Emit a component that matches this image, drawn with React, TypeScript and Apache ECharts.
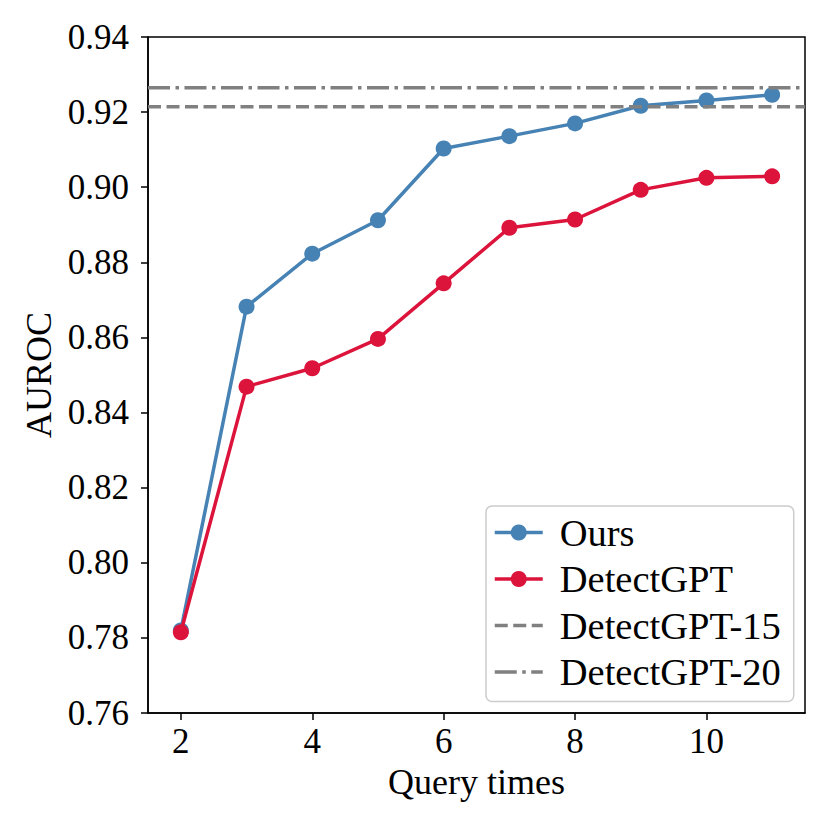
import React, { useEffect, useRef } from "react";
import * as echarts from "echarts";

const xValues = [2, 3, 4, 5, 6, 7, 8, 9, 10, 11];
const oursValues = [0.782, 0.8682, 0.8823, 0.8912, 0.9103, 0.9136, 0.917, 0.9217, 0.9231, 0.9246];
const detectGptValues = [0.7815, 0.8469, 0.8518, 0.8596, 0.8744, 0.8892, 0.8914, 0.8993, 0.9025, 0.9029];
const detectGpt15 = 0.9214;
const detectGpt20 = 0.9265;
const xTicks = [2, 4, 6, 8, 10];
const xMin = 1.5;
const xMax = 11.5;
const yMin = 0.76;
const yMax = 0.94;
const yStep = 0.02;
const seriesNames = ["Ours", "DetectGPT", "DetectGPT-15", "DetectGPT-20"];

const FONT = '"Liberation Serif", "Times New Roman", serif';

export default function App() {
  const ref = useRef<HTMLDivElement>(null);
  useEffect(() => {
    document.body.style.margin = "0";
    const chart = echarts.init(ref.current!, null, { renderer: "svg" });
    const pair = (vals: number[]) => xValues.map((x, i) => [x, vals[i]]);
    chart.setOption({
      animation: false,
      backgroundColor: "#ffffff",
      grid: {
        left: 148,
        right: 25,
        top: 37,
        bottom: 117,
        show: true,
        borderColor: "#000",
        borderWidth: 1.5,
        backgroundColor: "transparent",
      },
      xAxis: {
        type: "value",
        min: xMin,
        max: xMax,
        name: "Query times",
        nameLocation: "middle",
        nameGap: 50,
        nameTextStyle: { fontFamily: FONT, fontSize: 36, color: "#000" },
        axisLine: { show: true, lineStyle: { color: "#000", width: 1.5 } },
        axisTick: { show: true, length: 7, lineStyle: { color: "#000", width: 1.5 }, customValues: xTicks },
        axisLabel: { fontFamily: FONT, fontSize: 35, color: "#000", margin: 11, customValues: xTicks },
        splitLine: { show: false },
      },
      yAxis: {
        type: "value",
        min: yMin,
        max: yMax,
        interval: yStep,
        name: "AUROC",
        nameLocation: "middle",
        nameGap: 89,
        nameTextStyle: { fontFamily: FONT, fontSize: 36, color: "#000" },
        axisLine: { show: true, lineStyle: { color: "#000", width: 1.5 } },
        axisTick: { show: true, length: 7, lineStyle: { color: "#000", width: 1.5 } },
        axisLabel: {
          fontFamily: FONT,
          fontSize: 35,
          color: "#000",
          margin: 19,
          formatter: (v: number) => v.toFixed(2),
        },
        splitLine: { show: false },
      },
      legend: {
        orient: "vertical",
        left: 486,
        top: 506,
        data: [
          { name: seriesNames[0] },
          { name: seriesNames[1] },
          { name: seriesNames[2], itemStyle: { opacity: 0 } },
          { name: seriesNames[3], itemStyle: { opacity: 0 } },
        ],
        itemWidth: 48,
        itemHeight: 20,
        itemGap: 7.5,
        padding: [7, 13, 10, 7],
        backgroundColor: "rgba(255,255,255,0.8)",
        borderColor: "#cccccc",
        borderWidth: 1.5,
        borderRadius: 6,
        lineStyle: { width: 3.5 },
        textStyle: { fontFamily: FONT, fontSize: 38.5, color: "#000", lineHeight: 38.5, padding: [0, 0, 0, 12] },
      },
      series: [
        {
          name: seriesNames[0],
          type: "line",
          data: pair(oursValues),
          symbol: "circle",
          symbolSize: 16,
          itemStyle: { color: "#4682B4" },
          lineStyle: { color: "#4682B4", width: 3.5 },
          z: 2,
        },
        {
          name: seriesNames[1],
          type: "line",
          data: pair(detectGptValues),
          symbol: "circle",
          symbolSize: 16,
          itemStyle: { color: "#DC143C" },
          lineStyle: { color: "#DC143C", width: 3.5 },
          z: 3,
        },
        {
          name: seriesNames[2],
          type: "line",
          data: [
            [xMin, detectGpt15],
            [xMax, detectGpt15],
          ],
          symbol: "none",
          itemStyle: { color: "#808080" },
          lineStyle: { color: "#808080", width: 3.5, type: [13, 5.5] },
          z: 4,
        },
        {
          name: seriesNames[3],
          type: "line",
          data: [
            [xMin, detectGpt20],
            [xMax, detectGpt20],
          ],
          symbol: "none",
          itemStyle: { color: "#808080" },
          lineStyle: { color: "#808080", width: 3.5, type: [22, 5.5, 3.5, 5.5] },
          z: 4,
        },
      ],
    });
    return () => chart.dispose();
  }, []);
  return <div ref={ref} style={{ width: 830, height: 830 }} />;
}
